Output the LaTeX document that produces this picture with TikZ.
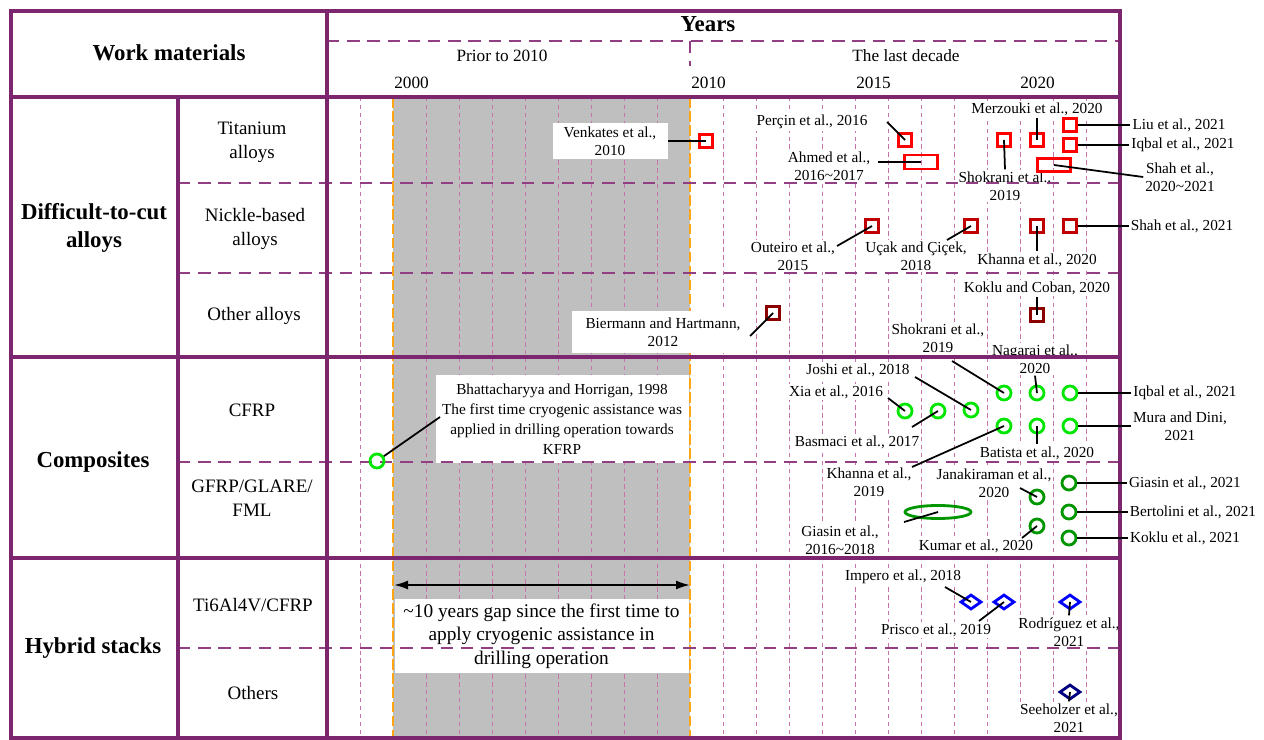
\documentclass[tikz,border=0pt]{standalone}
\usepackage{fontspec}
\setmainfont{Liberation Serif}
\usetikzlibrary{shapes.geometric,arrows.meta}
\definecolor{frameViolet}{RGB}{125,38,112}
\definecolor{rowViolet}{RGB}{145,62,130}
\definecolor{gridPink}{RGB}{200,115,172}
\definecolor{gapGray}{RGB}{191,191,191}
\definecolor{cryoOrange}{RGB}{255,165,20}
\definecolor{tiRed}{RGB}{255,0,0}
\definecolor{niRed}{RGB}{192,0,0}
\definecolor{otRed}{RGB}{140,0,0}
\definecolor{cfGreen}{RGB}{0,230,0}
\definecolor{gfGreen}{RGB}{0,150,0}
\definecolor{hyBlue}{RGB}{0,0,255}
\definecolor{hyNavy}{RGB}{0,0,128}
\begin{document}
\begin{tikzpicture}[x=0.2mm, y=-0.2mm,
  lbl/.style={font=\fontsize{8.7}{10.4}\selectfont, align=center, fill=white, inner sep=1pt},
  sub/.style={font=\fontsize{10.8}{13.6}\selectfont, align=center},
  cat/.style={font=\fontsize{13}{15.5}\selectfont\bfseries, align=center},
  hdr/.style={font=\fontsize{9.8}{12}\selectfont, inner sep=0pt},
  mk/.style={draw, line width=1.6pt, inner sep=0pt},
  sq/.style={mk, rectangle, minimum size=2.6mm},
  ci/.style={mk, circle, minimum size=2.8mm},
  di/.style={mk, diamond, minimum width=4.2mm, minimum height=3mm},
  lead/.style={line width=1pt},
  yearline/.style={draw=gridPink, line width=0.55pt, dash pattern=on 2.5pt off 2pt},
  cryoline/.style={draw=cryoOrange, line width=1.7pt, dash pattern=on 6pt off 2pt},
  rowsep/.style={draw=rowViolet, line width=1.2pt, dash pattern=on 7pt off 4.5pt},
  frm/.style={draw=frameViolet, line width=2.3pt}]
\useasboundingbox (0,0) rectangle (1264,740);
\fill[gapGray] (393,97) rectangle (690,738);
\foreach \k in {0,2,3,4,5,6,7,8,9,11,12,13,14,15,16,17,18,19,20,21,22}
  \draw[yearline] ({360+33*\k},97) -- ({360+33*\k},738);
\draw[cryoline] (393,97) -- (393,738);
\draw[cryoline] (690,97) -- (690,738);

\node[lbl, minimum width=23mm, minimum height=7.2mm] (lVenk) at (610,141) {Venkates et al.,\\2010};
\node[lbl, minimum width=36.4mm, minimum height=8.4mm] (lBier) at (663,332) {Biermann and Hartmann,\\2012};
\node[lbl, font=\fontsize{8.7}{11.3}\selectfont, minimum width=50.6mm, minimum height=17.6mm] (lBhat) at (562,419) {Bhattacharyya and Horrigan, 1998\\The first time cryogenic assistance was\\applied in drilling operation towards\\KFRP};
\node[lbl, font=\fontsize{11}{13.3}\selectfont, minimum width=58.8mm, minimum height=14.8mm] (lGap) at (541.5,636) {\textasciitilde10 years gap since the first time to\\apply cryogenic assistance in\\drilling operation};

\node[lbl] (lPercin) at (812,122) {Perçin et al., 2016};
\node[lbl] (lAhmed) at (829,166) {Ahmed et al.,\\2016\textasciitilde2017};
\node[lbl] (lMerz) at (1037,109) {Merzouki et al., 2020};
\node[lbl] (lShokA) at (1005,186) {Shokrani et al.,\\2019};
\node[lbl] (lLiu) at (1179,125) {Liu et al., 2021};
\node[lbl] (lIqbalA) at (1183,145) {Iqbal et al., 2021};
\node[lbl] (lShahA) at (1180,177) {Shah et al.,\\2020\textasciitilde2021};
\node[lbl] (lOut) at (793,256) {Outeiro et al.,\\2015};
\node[lbl] (lUcak) at (916,256) {Uçak and Çiçek,\\2018};
\node[lbl] (lKhannaA) at (1037,260) {Khanna et al., 2020};
\node[lbl] (lShahB) at (1182,226) {Shah et al., 2021};
\node[lbl] (lKokluA) at (1037,288) {Koklu and Coban, 2020};
\node[lbl] (lJoshi) at (858,370) {Joshi et al., 2018};
\node[lbl] (lXia) at (836,392) {Xia et al., 2016};
\node[lbl] (lBasm) at (857,442) {Basmaci et al., 2017};
\node[lbl] (lShokB) at (938,338) {Shokrani et al.,\\2019};
\node[lbl] (lNag) at (1035,359) {Nagaraj et al.,\\2020};
\node[lbl] (lIqbalB) at (1185,393) {Iqbal et al., 2021};
\node[lbl] (lKhannaB) at (869,482) {Khanna et al.,\\2019};
\node[lbl] (lBat) at (1037,453) {Batista et al., 2020};
\node[lbl] (lMura) at (1180,426) {Mura and Dini,\\2021};
\node[lbl] (lGiasA) at (840,540) {Giasin et al.,\\2016\textasciitilde2018};
\node[lbl] (lJana) at (994,483) {Janakiraman et al.,\\2020};
\node[lbl] (lKumar) at (976,546) {Kumar et al., 2020};
\node[lbl] (lGiasB) at (1185,483) {Giasin et al., 2021};
\node[lbl] (lBert) at (1193,512) {Bertolini et al., 2021};
\node[lbl] (lKokluB) at (1185,538) {Koklu et al., 2021};
\node[lbl] (lImp) at (903,577) {Impero et al., 2018};
\node[lbl] (lPris) at (936,630) {Prisco et al., 2019};
\node[lbl] (lRod) at (1069,632) {Rodríguez et al.,\\2021};
\node[lbl] (lSee) at (1069,718) {Seeholzer et al.,\\2021};

\draw[rowsep] (327,41) -- (1120,41);
\draw[rowsep] (690,41) -- (690,66);
\draw[rowsep] (178,183) -- (1120,183);
\draw[rowsep] (178,273) -- (1120,273);
\draw[rowsep] (178,462) -- (1120,462);
\draw[rowsep] (178,648) -- (1120,648);
\draw[frm] (11,11) rectangle (1120,738);
\draw[frm] (327,11) -- (327,738);
\draw[frm] (178,97) -- (178,738);
\draw[frm] (11,97) -- (1120,97);
\draw[frm] (11,357) -- (1120,357);
\draw[frm] (11,558) -- (1120,558);

\node[cat] (tWork) at (169,53) {Work materials};
\node[cat] (tYears) at (708,24) {Years};
\node[hdr] (tPrior) at (502,56) {Prior to 2010};
\node[hdr] (tDecade) at (906,56) {The last decade};
\node[hdr, anchor=west] (t2000) at (394,83) {2000};
\node[hdr, anchor=west] (t2010) at (691,83) {2010};
\node[hdr, anchor=west] (t2015) at (856,83) {2015};
\node[hdr, anchor=west] (t2020) at (1020,83) {2020};

\node[cat] (catAlloy) at (94,228) {Difficult-to-cut\\alloys};
\node[cat] (catComp) at (93,462) {Composites};
\node[cat] (catHyb) at (93,648) {Hybrid stacks};
\node[sub] (subTi) at (252,142) {Titanium\\alloys};
\node[sub] (subNi) at (255,229) {Nickle-based\\alloys};
\node[sub] (subOther) at (254,316) {Other alloys};
\node[sub] (subCF) at (252,410) {CFRP};
\node[sub] (subGF) at (252,498) {GFRP/GLARE/\\FML};
\node[sub] (subTiCF) at (253,605) {Ti6Al4V/CFRP};
\node[sub] (subOthers) at (253,693) {Others};

\node[sq, draw=tiRed] (mVenk) at (706,141) {};
\node[sq, draw=tiRed] (mPercin) at (905,140) {};
\node[mk, rectangle, draw=tiRed, minimum width=6.6mm, minimum height=2.8mm] (mAhmed) at (921,162) {};
\node[sq, draw=tiRed] (mMerz) at (1037,140) {};
\node[sq, draw=tiRed] (mShokA) at (1004,140) {};
\node[sq, draw=tiRed] (mLiu) at (1070,125) {};
\node[sq, draw=tiRed] (mIqbalA) at (1070,145) {};
\node[mk, rectangle, draw=tiRed, minimum width=6.6mm, minimum height=2.6mm] (mShahA) at (1054,165) {};
\node[sq, draw=niRed] (mOut) at (872,226) {};
\node[sq, draw=niRed] (mUcak) at (971,226) {};
\node[sq, draw=niRed] (mKhannaA) at (1037,226) {};
\node[sq, draw=niRed] (mShahB) at (1070,226) {};
\node[sq, draw=otRed] (mBier) at (773,313) {};
\node[sq, draw=otRed] (mKokluA) at (1037,315) {};
\node[ci, draw=cfGreen] (mBhat) at (377,461) {};
\node[ci, draw=cfGreen] (mXia) at (905,411) {};
\node[ci, draw=cfGreen] (mBasm) at (938,411) {};
\node[ci, draw=cfGreen] (mJoshi) at (971,410) {};
\node[ci, draw=cfGreen] (mShokB) at (1004,393) {};
\node[ci, draw=cfGreen] (mNag) at (1037,393) {};
\node[ci, draw=cfGreen] (mIqbalB) at (1070,393) {};
\node[ci, draw=cfGreen] (mKhannaB) at (1004,426) {};
\node[ci, draw=cfGreen] (mBat) at (1037,426) {};
\node[ci, draw=cfGreen] (mMura) at (1070,426) {};
\node[mk, ellipse, draw=gfGreen, minimum width=13.2mm, minimum height=2.6mm] (mGiasA) at (938,512) {};
\node[ci, draw=gfGreen] (mJana) at (1037,497) {};
\node[ci, draw=gfGreen] (mKumar) at (1037,526) {};
\node[ci, draw=gfGreen] (mGiasB) at (1069,483) {};
\node[ci, draw=gfGreen] (mBert) at (1069,512) {};
\node[ci, draw=gfGreen] (mKokluB) at (1069,538) {};
\node[di, draw=hyBlue] (mImp) at (971,602) {};
\node[di, draw=hyBlue] (mPris) at (1004,602) {};
\node[di, draw=hyBlue] (mRod) at (1070,602) {};
\node[di, draw=hyNavy] (mSee) at (1070,692) {};

\coordinate (cPercin) at (887,122);
\coordinate (cAhmed) at (878,162);
\coordinate (cOut) at (837,246);
\coordinate (cUcak) at (947,240);
\coordinate (cBier) at (750,336);
\coordinate (cBhat) at (440,417);
\coordinate (cXia) at (888,398);
\coordinate (cBasm) at (912,427);
\coordinate (cJoshi) at (915,377);
\coordinate (cShokB) at (952,361);
\coordinate (cKhannaB) at (912,467);
\coordinate (cGiasA) at (904,522);
\coordinate (cJana) at (1020,488);
\coordinate (cKumar) at (1022,538);
\coordinate (cImp) at (945,587);
\coordinate (cPris) at (979,621);
\coordinate (gapL) at (394,585);
\coordinate (gapR) at (690,585);

\draw[lead] (lVenk.east) -- (mVenk.center);
\draw[lead] (cPercin) -- (mPercin.center);
\draw[lead] (cAhmed) -- (mAhmed.center);
\draw[lead] (lMerz.south) -- (mMerz.center);
\draw[lead] (mShokA.center) -- (lShokA.north);
\draw[lead] (mLiu.east) -- (lLiu.west);
\draw[lead] (mIqbalA.east) -- (lIqbalA.west);
\draw[lead] (mShahA.center) -- (lShahA.west);
\draw[lead] (cOut) -- (mOut.center);
\draw[lead] (cUcak) -- (mUcak.center);
\draw[lead] (mKhannaA.center) -- (lKhannaA.north);
\draw[lead] (mShahB.east) -- (lShahB.west);
\draw[lead] (cBier) -- (mBier.center);
\draw[lead] (lKokluA.south) -- (mKokluA.center);
\draw[lead] (mBhat) -- (cBhat);
\draw[lead] (cXia) -- (mXia.center);
\draw[lead] (cBasm) -- (mBasm.center);
\draw[lead] (cJoshi) -- (mJoshi.center);
\draw[lead] (cShokB) -- (mShokB.center);
\draw[lead] (lNag.south) -- (mNag.center);
\draw[lead] (mIqbalB.east) -- (lIqbalB.west);
\draw[lead] (cKhannaB) -- (mKhannaB.center);
\draw[lead] (mBat.center) -- (lBat.north);
\draw[lead] (mMura.east) -- (lMura.west);
\draw[lead] (cGiasA) -- (mGiasA.center);
\draw[lead] (cJana) -- (mJana.center);
\draw[lead] (cKumar) -- (mKumar.center);
\draw[lead] (mGiasB.east) -- (lGiasB.west);
\draw[lead] (mBert.east) -- (lBert.west);
\draw[lead] (mKokluB.east) -- (lKokluB.west);
\draw[lead] (cImp) -- (mImp.center);
\draw[lead] (cPris) -- (mPris.center);
\draw[lead] (mRod.center) -- (lRod.north);
\draw[lead] (mSee.center) -- (lSee.north);
\draw[line width=1.1pt, {Latex[length=2.8mm,width=1.8mm]}-{Latex[length=2.8mm,width=1.8mm]}] (gapL) -- (gapR);
\end{tikzpicture}
\end{document}
